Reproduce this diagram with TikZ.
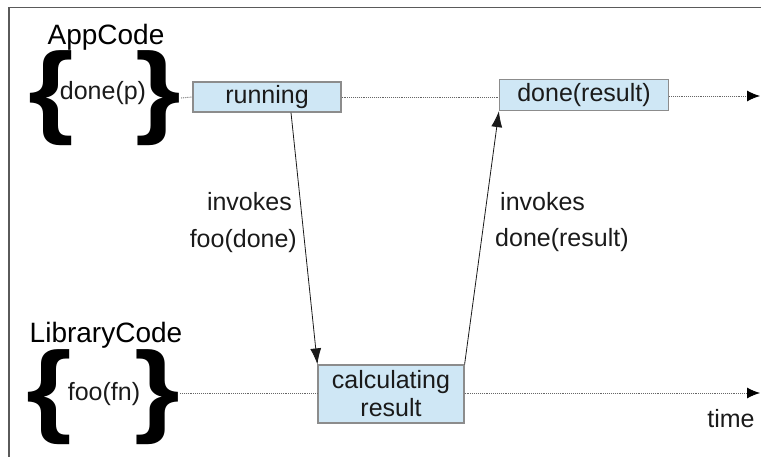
\documentclass[tikz,border=0pt]{standalone}
\usepackage{fontspec}
\setmainfont{Liberation Sans}
\usetikzlibrary{arrows.meta}

\definecolor{boxfill}{RGB}{207,231,245}
\definecolor{boxline}{RGB}{140,140,140}
\definecolor{inkcol}{RGB}{26,26,26}
\definecolor{framecol}{RGB}{90,90,90}

\newcommand{\widebrace}[1]{\scalebox{1.15}[1]{#1}}

\tikzset{
  task/.style={draw=boxline,fill=boxfill,line width=1.2pt,inner sep=0pt,
    text=inkcol,font=\fontsize{25}{28}\selectfont,align=center},
  lane/.style={draw=gray!80!black,densely dotted,line width=0.9pt},
  laneend/.style={lane,-{Latex[length=13pt,width=11pt,black]}},
  call/.style={draw=inkcol,line width=0.8pt,-{Latex[length=16pt,width=11pt]}},
  curly/.style={inner sep=0pt,text=black,font=\fontsize{102}{102}\bfseries\selectfont},
  label/.style={inner sep=0pt,text=inkcol,font=\fontsize{25}{28}\selectfont},
  title/.style={inner sep=0pt,text=black,font=\fontsize{28}{32}\selectfont}
}

\begin{document}
\begin{tikzpicture}[x=1pt,y=-1pt]
  \useasboundingbox (0,0) rectangle (761,457);
  % frame
  \draw[framecol,line width=1.3pt] (761,7.5) -- (9,7.5) -- (9,457);
  % titles
  \node[title,anchor=base] (appname) at (106,45) {AppCode};
  \node[title,anchor=base] (libname) at (106,342) {LibraryCode};
  % braces
  \node[curly] (appl) at (51,98) {\widebrace{\{}};
  \node[curly] (appr) at (158,98) {\widebrace{\}}};
  \node[label,anchor=base] (appfn) at (103,100) {done(p)};
  \node[curly] (libl) at (49,397) {\widebrace{\{}};
  \node[curly] (libr) at (157,397) {\widebrace{\}}};
  \node[label,anchor=base] (libfn) at (104,400) {foo(fn)};
  % tasks
  \node[task,minimum width=148pt,minimum height=30pt] (running) at (267,97) {running};
  \node[task,minimum width=169pt,minimum height=31pt] (done) at (584,95) {done(result)};
  \node[task,minimum width=146pt,minimum height=58pt] (calc) at (391,394) {calculating\\result};
  \coordinate (append) at (760,96);
  \coordinate (libend) at (760,393);
  % lanes
  \draw[lane] (appr.east) -- (running.west);
  \draw[lane] (running.east) -- (running.east -| done.west);
  \draw[laneend] (done.east |- append) -- (append);
  \draw[lane] (libr.east |- libend) -- (libend -| calc.west);
  \draw[laneend] (libend -| calc.east) -- (libend);
  \node[label,anchor=base] (time) at (731,427) {time};
  % calls
  \draw[call] ([xshift=24pt]running.south) -- (calc.north west);
  \draw[call] (calc.north east) -- (done.south west);
  \node[label,anchor=east] (inv1) at (292,202) {invokes};
  \node[label,anchor=east] (inv1fn) at (297,241) {foo(done)};
  \node[label,anchor=west] (inv2) at (500,202) {invokes};
  \node[label,anchor=west] (inv2fn) at (495,240) {done(result)};
\end{tikzpicture}
\end{document}
